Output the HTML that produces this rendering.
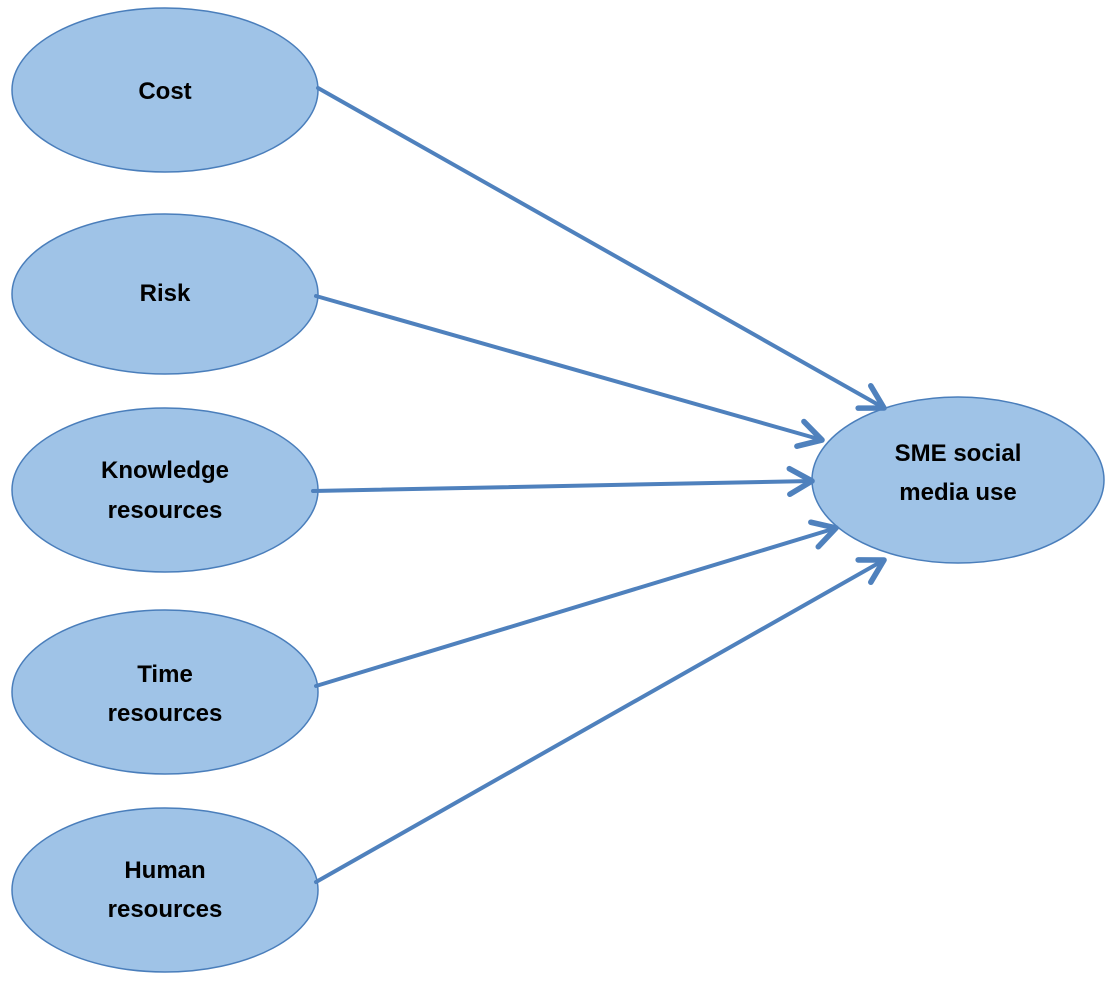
<!DOCTYPE html>
<html><head><style>html,body{margin:0;padding:0;background:#fff}</style></head><body>
<svg width="1114" height="992" viewBox="0 0 1114 992" xmlns="http://www.w3.org/2000/svg">
<defs>
<marker id="a" viewBox="0 0 20 20" refX="17" refY="10" markerWidth="8" markerHeight="8" markerUnits="strokeWidth" orient="auto">
<path d="M3,2 L17,10 L3,18" fill="none" stroke="#4f81bd" stroke-width="3.5" stroke-linecap="round" stroke-linejoin="round"/>
</marker>
</defs>
<g fill="#9fc3e7" stroke="#4a7ebb" stroke-width="1.5">
<ellipse cx="165" cy="90" rx="153" ry="82"/>
<ellipse cx="165" cy="294" rx="153" ry="80"/>
<ellipse cx="165" cy="490" rx="153" ry="82"/>
<ellipse cx="165" cy="692" rx="153" ry="82"/>
<ellipse cx="165" cy="890" rx="153" ry="82"/>
<ellipse cx="958" cy="480" rx="146" ry="83"/>
</g>
<g stroke="#4f81bd" stroke-width="4" fill="none" marker-end="url(#a)" stroke-linecap="round">
<line x1="318" y1="88" x2="884" y2="408"/>
<line x1="316" y1="296" x2="822" y2="440"/>
<line x1="313" y1="491" x2="812" y2="481"/>
<line x1="316" y1="686" x2="836" y2="528"/>
<line x1="316" y1="882" x2="884" y2="560"/>
</g>
<g font-family="Liberation Sans, sans-serif" font-weight="bold" font-size="24" fill="#000" text-anchor="middle">
<text x="165" y="99">Cost</text>
<text x="165" y="301">Risk</text>
<text x="165" y="478">Knowledge</text>
<text x="165" y="518">resources</text>
<text x="165" y="682">Time</text>
<text x="165" y="721">resources</text>
<text x="165" y="878">Human</text>
<text x="165" y="917">resources</text>
<text x="958" y="461">SME social</text>
<text x="958" y="500">media use</text>
</g>
</svg>
</body></html>
